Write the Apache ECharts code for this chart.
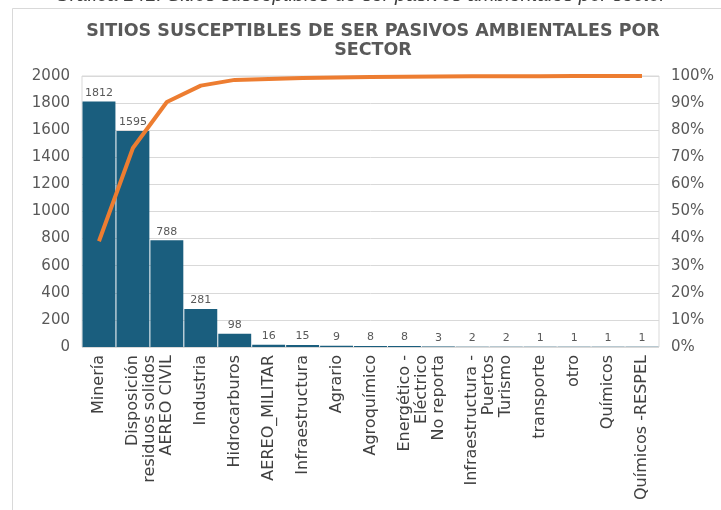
<!DOCTYPE html>
<html>
<head>
<meta charset="utf-8">
<script src="https://cdn.jsdelivr.net/npm/echarts@6/dist/echarts.min.js"></script>
<style>
  html, body { margin: 0; padding: 0; background: #ffffff; }
  #chart { width: 721px; height: 510px; }
</style>
</head>
<body>
<div id="chart"></div>
<script>
// Sectors, ordered by number of sites (Pareto order)
const sectors = [
  'Minería',
  'Disposición\nresiduos solidos',
  'AEREO CIVIL',
  'Industria',
  'Hidrocarburos',
  'AEREO_MILITAR',
  'Infraestructura',
  'Agrario',
  'Agroquímico',
  'Energético -\nEléctrico',
  'No reporta',
  'Infraestructura -\nPuertos',
  'Turismo',
  'transporte',
  'otro',
  'Químicos',
  'Químicos -RESPEL'
];

// Number of sites per sector
const sites = [1812, 1595, 788, 281, 98, 16, 15, 9, 8, 8, 3, 2, 2, 1, 1, 1, 1];

// Cumulative share of all sites (%)
const cumulativePct = [39.04, 73.41, 90.39, 96.45, 98.56, 98.90, 99.22, 99.42, 99.59, 99.76, 99.83, 99.87, 99.91, 99.94, 99.96, 99.98, 100.00];

// Axis ticks
const countTicks = [0, 200, 400, 600, 800, 1000, 1200, 1400, 1600, 1800, 2000];
const pctTicks = [0, 10, 20, 30, 40, 50, 60, 70, 80, 90, 100];

const caption = 'Gráfica 141: Sitios susceptibles de ser pasivos ambientales por sector';
const title = 'SITIOS SUSCEPTIBLES DE SER PASIVOS AMBIENTALES POR\nSECTOR';

const textGrey = '#595959';
const gridGrey = '#d9d9d9';

// two-line labels keep their first line on the tick: a blank leading line
// pushes the wrapped block so the second line falls to the right
const categoryLabels = sectors.map(s => (s.indexOf('\n') >= 0 ? '\n' + s : s));

const chart = echarts.init(document.getElementById('chart'), null, { renderer: 'canvas' });

chart.setOption({
  backgroundColor: '#ffffff',
  animation: false,
  graphic: [
    {
      type: 'rect',
      shape: { x: 12.5, y: 8.5, width: 760, height: 560 },
      style: { fill: 'none', stroke: gridGrey, lineWidth: 1 },
      silent: true
    },
    {
      type: 'text',
      left: 'center',
      top: -14,
      style: {
        text: caption,
        font: 'italic 19.7px "Liberation Sans", Arial, sans-serif',
        fill: '#404040'
      },
      silent: true
    }
  ],
  title: {
    text: title,
    left: 368,
    textAlign: 'center',
    top: 17,
    textStyle: {
      fontFamily: '"DejaVu Sans", Verdana, sans-serif',
      fontWeight: 'bold',
      fontSize: 17.5,
      lineHeight: 19,
      color: textGrey
    }
  },
  grid: {
    left: 82,
    right: 62,
    top: 76,
    bottom: 163,
    show: true,
    borderColor: gridGrey,
    borderWidth: 1,
    containLabel: false
  },
  xAxis: {
    type: 'category',
    data: categoryLabels,
    axisLine: { show: false },
    axisTick: { show: false },
    axisLabel: {
      rotate: 90,
      interval: 0,
      margin: 8,
      fontFamily: '"DejaVu Sans", Verdana, sans-serif',
      fontSize: 16,
      lineHeight: 17,
      color: '#404040'
    }
  },
  yAxis: [
    {
      type: 'value',
      min: countTicks[0],
      max: countTicks[countTicks.length - 1],
      interval: countTicks[1] - countTicks[0],
      axisLine: { show: false },
      axisTick: { show: false },
      splitLine: { lineStyle: { color: gridGrey, width: 1 } },
      axisLabel: {
        margin: 12,
        formatter: v => String(v),
        fontFamily: '"DejaVu Sans", Verdana, sans-serif',
        fontSize: 15,
        color: textGrey
      }
    },
    {
      type: 'value',
      min: pctTicks[0],
      max: pctTicks[pctTicks.length - 1],
      interval: pctTicks[1] - pctTicks[0],
      axisLine: { show: false },
      axisTick: { show: false },
      splitLine: { show: false },
      axisLabel: {
        margin: 12,
        formatter: v => v + '%',
        fontFamily: '"DejaVu Sans", Verdana, sans-serif',
        fontSize: 15,
        color: textGrey
      }
    }
  ],
  series: [
    {
      name: 'Sitios',
      type: 'bar',
      data: sites,
      barCategoryGap: '3%',
      itemStyle: { color: '#1a5e7e' },
      label: {
        show: true,
        position: 'top',
        distance: 3,
        fontFamily: '"DejaVu Sans", Verdana, sans-serif',
        fontSize: 11,
        color: textGrey
      }
    },
    {
      name: '% acumulado',
      type: 'line',
      yAxisIndex: 1,
      data: cumulativePct,
      symbol: 'none',
      lineStyle: { color: '#ed7d31', width: 4 },
      z: 5
    }
  ]
});
</script>
</body>
</html>
